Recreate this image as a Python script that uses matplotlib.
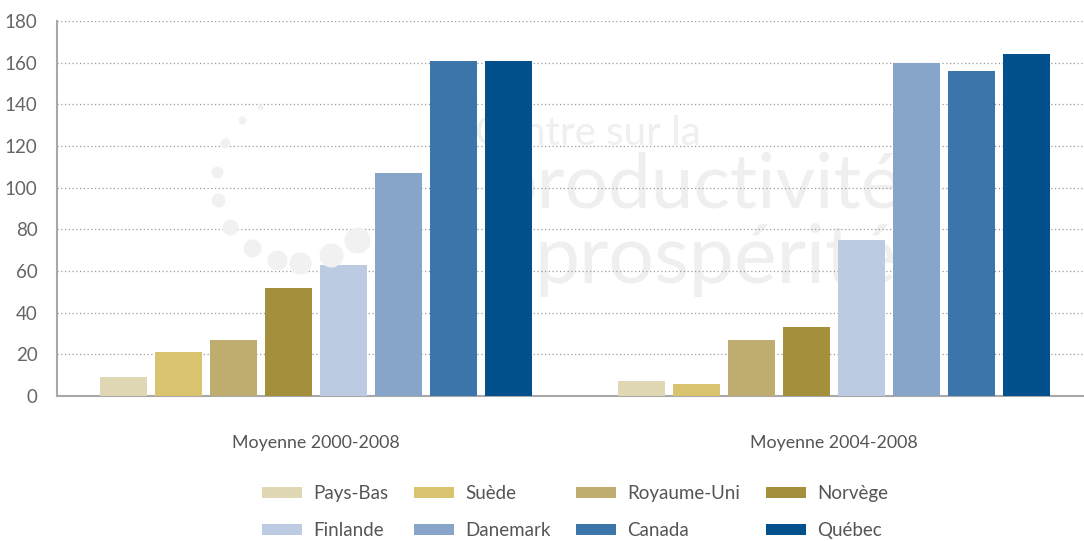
import numpy as np
import matplotlib
matplotlib.use('Agg')
import matplotlib.pyplot as plt
from matplotlib.patches import Patch

plt.rcParams['font.family'] = ['Lato', 'DejaVu Sans']

periodes = ['Moyenne 2000-2008', 'Moyenne 2004-2008']
pays = ['Pays-Bas', 'Suède', 'Royaume-Uni', 'Norvège',
        'Finlande', 'Danemark', 'Canada', 'Québec']
valeurs_2000_2008 = [9, 21, 27, 52, 63, 107, 161, 161]
valeurs_2004_2008 = [7, 6, 27, 33, 75, 160, 156, 164]
couleurs = ['#e0d8b5', '#d9c36e', '#bead6f', '#a48f3c',
            '#bccbe1', '#87a4c9', '#3b75a9', '#02508c']
yticks = [0, 20, 40, 60, 80, 100, 120, 140, 160, 180]

W, H = 1084, 541
fig = plt.figure(figsize=(W / 100, H / 100), dpi=100)
ax = fig.add_axes([57 / W, 1 - 396 / H, 1 - 57 / W, (396 - 21) / H])

data = np.array([valeurs_2000_2008, valeurs_2004_2008])
x = np.arange(len(periodes))
pas = 55 / 518
largeur = 47 / 518
for i, (nom, c) in enumerate(zip(pays, couleurs)):
    ax.bar(x + (i - 3.5) * pas, data[:, i], width=largeur, color=c,
           label=nom, zorder=3)

ax.set_xlim(-0.5, 1.5 - 9 / 518)
ax.set_ylim(0, 180)
ax.set_yticks(yticks)
ax.set_yticklabels([str(v) for v in yticks], fontsize=13.5, color='#666666')
ax.set_xticks(x)
ax.set_xticklabels(periodes, fontsize=12.8, color='#555555')
ax.tick_params(axis='both', length=0)
ax.tick_params(axis='x', pad=28)
ax.tick_params(axis='y', pad=14)

ax.grid(axis='y', linestyle=(0, (1, 2)), color='#9a9a9a', linewidth=0.9, zorder=0)
for s in ['top', 'right']:
    ax.spines[s].set_visible(False)
for s in ['left', 'bottom']:
    ax.spines[s].set_color('#a8a8a8')
    ax.spines[s].set_linewidth(1.5)

# filigrane du Centre en arrière-plan (logo : texte + spirale de points)
wm = dict(transform=ax.transAxes, color='#efefef', zorder=1, va='baseline')
ax.text(0.627, 0.669, 'Centre sur la', fontsize=29, ha='right', **wm)
ax.text(0.823, 0.501, 'productivité', fontsize=55, ha='right', **wm)
ax.text(0.465, 0.301, 'prospérité', fontsize=58, ha='left', **wm)
points = [(260, 107, 3), (242, 120, 4), (225, 143, 5), (217, 172, 6),
          (218, 200, 7), (230, 227, 8), (252, 248, 9), (277, 260, 10),
          (300, 263, 11), (331, 255, 12), (357, 240, 13)]
for px, py, r in points:
    fig.lines.append(plt.Line2D([px / W], [1 - py / H], marker='o',
                                ms=2 * r * 0.72, color='#f1f1f1', mec='none',
                                transform=fig.transFigure, zorder=0))

ordre = [0, 4, 1, 5, 2, 6, 3, 7]
handles = [Patch(facecolor=couleurs[i], edgecolor='none') for i in ordre]
labels = [pays[i] for i in ordre]
fig.legend(handles, labels, ncol=4, loc='center',
           bbox_to_anchor=(575 / W, 1 - 512 / H), frameon=False,
           fontsize=13.5, handlelength=2.15, handleheight=0.55,
           handletextpad=0.6, columnspacing=1.35, labelspacing=1.05,
           labelcolor='#555555')

fig.savefig('out.png', dpi=100)
